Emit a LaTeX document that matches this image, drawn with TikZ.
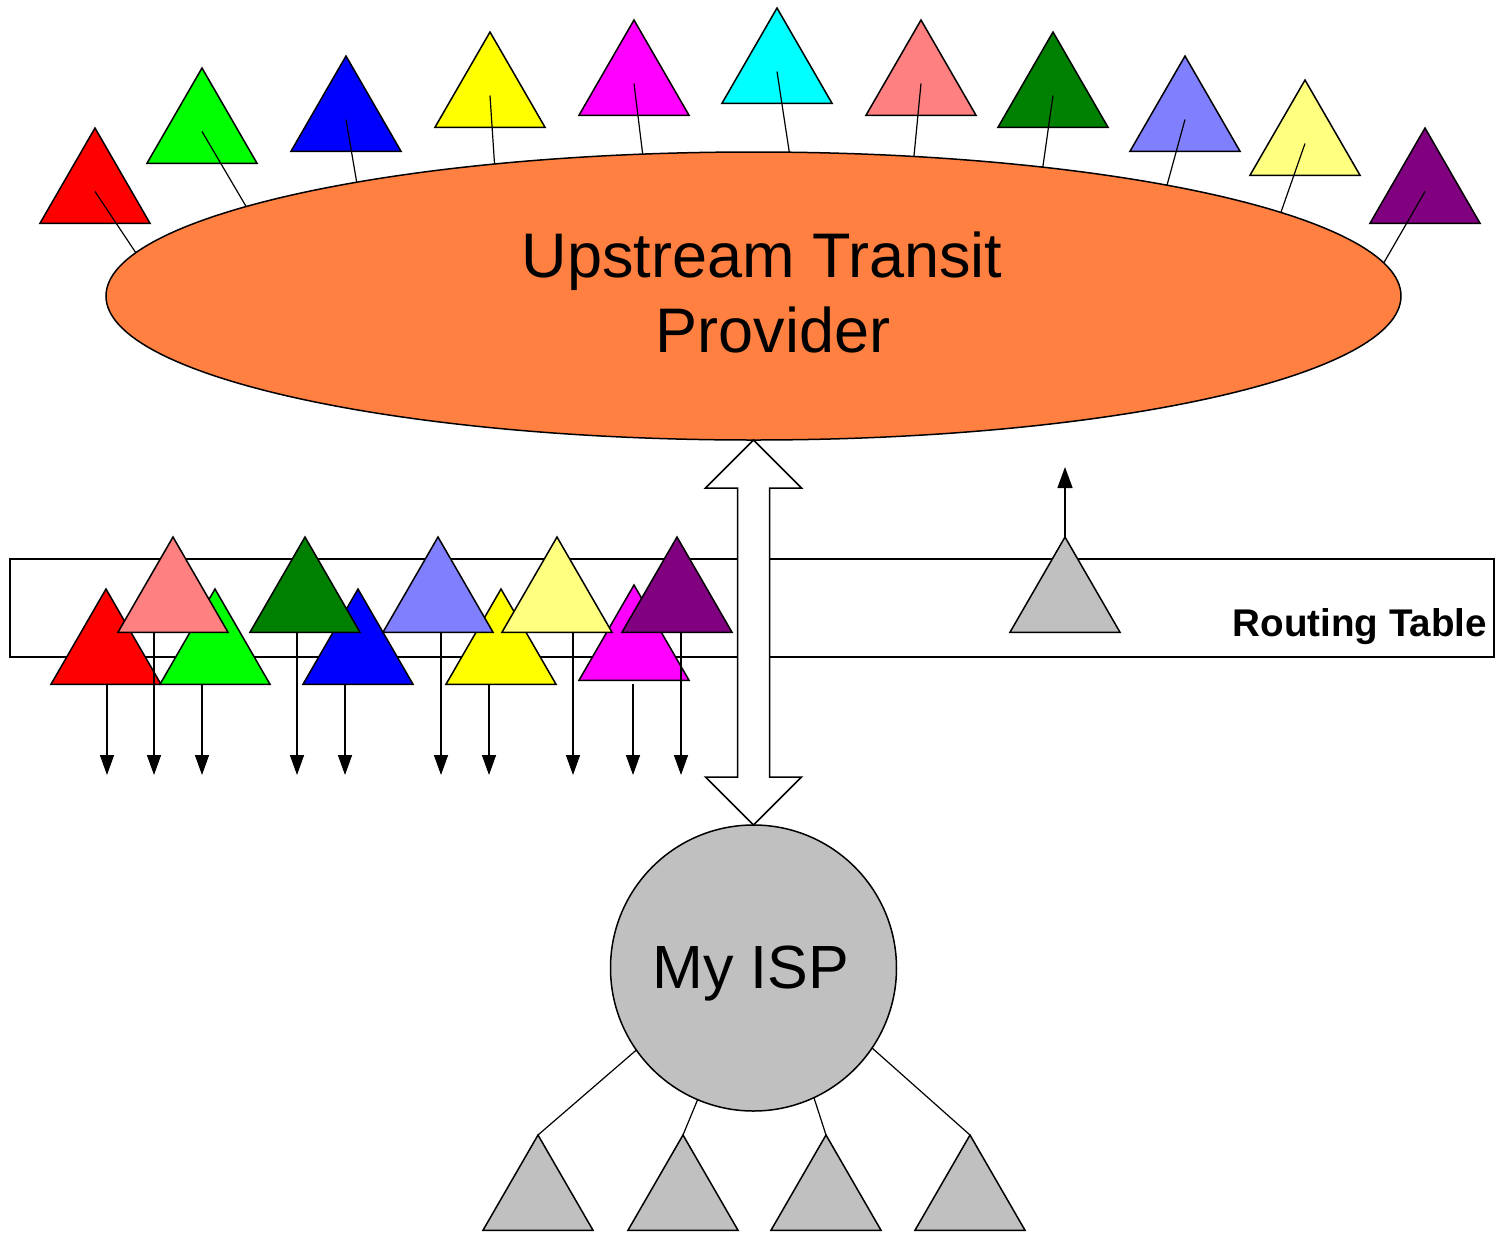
\documentclass[tikz,border=0pt]{standalone}
\usepackage{fontspec}
\setmainfont{Liberation Sans}
\usetikzlibrary{shapes.geometric,arrows.meta,calc}
\definecolor{cOrange}{HTML}{FF8040}
\definecolor{cGray}{HTML}{C0C0C0}
\definecolor{cRed}{HTML}{FF0000}
\definecolor{cGreen}{HTML}{00FF00}
\definecolor{cBlue}{HTML}{0000FF}
\definecolor{cYellow}{HTML}{FFFF00}
\definecolor{cMagenta}{HTML}{FF00FF}
\definecolor{cCyan}{HTML}{00FFFF}
\definecolor{cSalmon}{HTML}{FF8080}
\definecolor{cDkGreen}{HTML}{008000}
\definecolor{cLtBlue}{HTML}{8080FF}
\definecolor{cLtYellow}{HTML}{FFFF80}
\definecolor{cPurple}{HTML}{800080}
\begin{document}
\begin{tikzpicture}[x=0.5pt,y=-0.5pt,line width=0.75pt,
  tri/.style={regular polygon, regular polygon sides=3, draw=black, minimum size=63.5pt, inner sep=0pt, outer sep=0pt},
  arr/.style={-{Triangle[length=10pt,width=7pt]}},
  lnk/.style={draw=black, line width=0.6pt},
  lbl/.style={inner sep=0pt, outer sep=0pt}]
\useasboundingbox (0,0) rectangle (1496,1233);

% upstream provider
\node[ellipse, draw, fill=cOrange, minimum width=647.5pt, minimum height=144pt, inner sep=0pt, outer sep=0pt] (up) at (753.5,296) {};

% top triangles with links
\foreach \n/\x/\y/\c/\a in {t1/95/191.5/cRed/176.7, t2/202/131.5/cGreen/170.9, t3/346/119.5/cBlue/164.3, t4/490/95.5/cYellow/153.6, t5/634/83.5/cMagenta/128.6, t6/777/71.5/cCyan/76.5, t7/921/83.5/cSalmon/41, t8/1053/95.5/cDkGreen/24.9, t9/1185/119.5/cLtBlue/15.5, t10/1305/143.5/cLtYellow/9.4, t11/1425/191.5/cPurple/3.3}{
  \node[tri, fill=\c] (\n) at (\x,\y) {};
  \draw[lnk] (\n.center) -- (up.\a);
}

% routing table
\node[draw, rectangle, minimum width=742pt, minimum height=49pt, inner sep=0pt, outer sep=0pt] (rt) at (752,608) {};

% front row
\foreach \n/\x/\y/\c in {rRed/106/652.5/cRed, rGreen/215/652.5/cGreen, rBlue/358/652.5/cBlue, rYellow/501/652.5/cYellow, rMagenta/634/648.5/cMagenta}{
  \node[tri, fill=\c] (\n) at (\x,\y) {};
}
% back row
\foreach \n/\x/\y/\c in {rSalmon/173/600.5/cSalmon, rDkGreen/305/600.5/cDkGreen, rLtBlue/438/600.5/cLtBlue, rLtYellow/557/600.5/cLtYellow, rPurple/677/600.5/cPurple}{
  \node[tri, fill=\c] (\n) at (\x,\y) {};
}
\node[tri, fill=cGray] (rGray) at (1065,600.5) {};

% arrow ends
\foreach \n/\x in {e1/107, e2/154, e3/202, e4/297, e5/345, e6/441, e7/489, e8/573, e9/633, e10/681}{
  \coordinate (\n) at (\x,775);
}
\coordinate (eUp) at (1065,467);
\draw[arr] (rRed.south -| e1) -- (e1);
\draw[arr] (rSalmon.south -| e2) -- (e2);
\draw[arr] (rGreen.south -| e3) -- (e3);
\draw[arr] (rDkGreen.south -| e4) -- (e4);
\draw[arr] (rBlue.south -| e5) -- (e5);
\draw[arr] (rLtBlue.south -| e6) -- (e6);
\draw[arr] (rYellow.south -| e7) -- (e7);
\draw[arr] (rLtYellow.south -| e8) -- (e8);
\draw[arr] ($(rMagenta.south -| e9)+(0,4)$) -- (e9);
\draw[arr] (rPurple.south -| e10) -- (e10);
\draw[-{Triangle[length=10.5pt,width=7.5pt]}] (rGray.corner 1) -- (eUp);

% my ISP
\node[circle, draw, fill=cGray, minimum size=143pt, inner sep=0pt, outer sep=0pt] (isp) at (753.5,968) {};

% double arrow between provider and ISP
\coordinate (ta) at (up.south);
\coordinate (tb) at (isp.north);
\draw[fill=white] (ta) -- ++(48,48) -- ++(-32,0) -- ($(tb)+(16,-48)$) -- ++(32,0) -- (tb)
  -- ++(-48,-48) -- ++(32,0) -- ($(ta)+(-16,48)$) -- ++(-32,0) -- cycle;

% customer triangles
\foreach \n/\x/\a in {b1/538/215.5, b2/683/247.1, b3/826/295.5, b4/970/326.7}{
  \node[tri, fill=cGray] (\n) at (\x,1198.5) {};
  \draw[lnk] (isp.\a) -- (\n.corner 1);
}

% labels
\node[lbl, font=\fontsize{31.5pt}{37pt}\selectfont, anchor=base] (l1) at (762,277) {Upstream Transit};
\node[lbl, font=\fontsize{31.5pt}{37pt}\selectfont, anchor=base] (l2) at (773,352) {Provider};
\node[lbl, font=\fontsize{30.5pt}{36pt}\selectfont, anchor=base] (l3) at (751,988) {My ISP};
\node[lbl, font=\bfseries\fontsize{19.3pt}{23pt}\selectfont, anchor=base east] (l4) at (1487,636) {Routing Table};
\end{tikzpicture}
\end{document}
